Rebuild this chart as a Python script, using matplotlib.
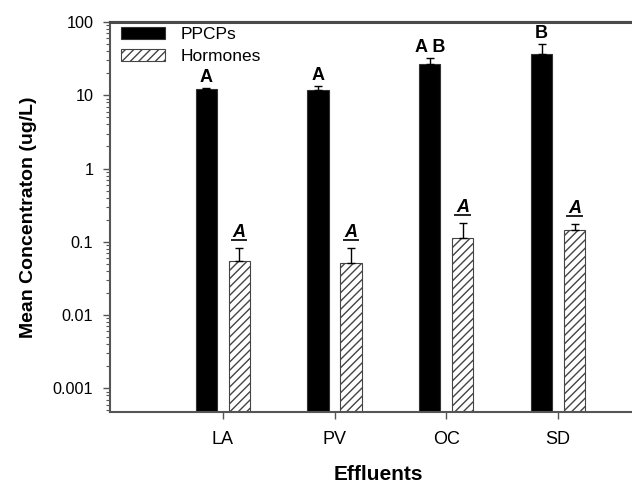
import matplotlib
matplotlib.use("Agg")
import matplotlib.pyplot as plt
import numpy as np
from matplotlib.transforms import offset_copy
from matplotlib.lines import Line2D
from matplotlib.ticker import LogLocator, FixedLocator, NullFormatter

plt.rcParams['font.family'] = ['Liberation Sans', 'DejaVu Sans']
plt.rcParams['hatch.color'] = '#666666'
plt.rcParams['hatch.linewidth'] = 1.0

categories = ['LA', 'PV', 'OC', 'SD']
ppcps = [12.0, 11.8, 26.5, 36.5]
ppcps_err = [0.6, 1.6, 5.5, 13.5]
hormones = [0.055, 0.052, 0.114, 0.146]
hormones_err = [0.028, 0.031, 0.068, 0.030]
ppcps_labels = ['A', 'A', 'A B', 'B']
hormones_labels = ['A', 'A', 'A', 'A']
ytick_vals = [0.001, 0.01, 0.1, 1, 10, 100]
ytick_labels = ['0.001', '0.01', '0.1', '1', '10', '100']

fig = plt.figure(figsize=(6.32, 4.83), dpi=100)
ax = fig.add_axes([110/632, 1-411.7/483, 536/632, (411.7-22)/483])

x = np.arange(len(categories))
w = 0.19
off = 0.147
spine_c = '#555555'

ax.bar(x - off, ppcps, width=w, color='black', edgecolor='#333333', linewidth=0.8,
       yerr=[np.zeros(len(x)), ppcps_err], capsize=3,
       error_kw=dict(ecolor='black', elinewidth=1.0, capthick=1.0),
       label='PPCPs', zorder=2)
ax.bar(x + off, hormones, width=w, color='white', edgecolor='#444444', linewidth=0.8,
       hatch='////', yerr=[np.zeros(len(x)), hormones_err], capsize=3,
       error_kw=dict(ecolor='black', elinewidth=1.0, capthick=1.0),
       label='Hormones', zorder=2)

ax.set_yscale('log')
ax.set_ylim(10**(-3.32), 100)
ax.set_xlim(-1.008, 3.786)

ax.yaxis.set_major_locator(FixedLocator(ytick_vals))
ax.set_yticklabels(ytick_labels)
ax.yaxis.set_minor_locator(LogLocator(base=10, subs=np.arange(2, 10), numticks=20))
ax.yaxis.set_minor_formatter(NullFormatter())
ax.set_xticks(x)
ax.set_xticklabels(categories)

ax.tick_params(axis='y', which='major', direction='out', length=5, width=1, color=spine_c,
               labelsize=11.7, pad=7)
ax.tick_params(axis='y', which='minor', direction='out', length=3, width=0.8, color=spine_c)
ax.tick_params(axis='x', which='major', direction='out', length=5, width=1, color=spine_c,
               labelsize=13, pad=9)
ax.tick_params(axis='x', which='minor', bottom=False)

for s in ['left', 'bottom', 'top']:
    ax.spines[s].set_color(spine_c)
    ax.spines[s].set_linewidth(1.5)
ax.spines['right'].set_visible(False)

# figure-level top frame line (axes extends past the right edge)
fig.add_artist(Line2D([110/632, 1.0], [1-22/483, 1-22/483], transform=fig.transFigure,
                      color='#4a4a4a', lw=2.2, zorder=10))

# PPCP labels
for xi, v, e, lab in zip(x, ppcps, ppcps_err, ppcps_labels):
    tr = offset_copy(ax.transData, fig=fig, x=0, y=1.5, units='points')
    ax.text(xi - off, v + e, lab, transform=tr, ha='center', va='bottom',
            fontsize=13, fontweight='bold')

# Hormone labels with underline
for xi, v, e, lab in zip(x, hormones, hormones_err, hormones_labels):
    tr = offset_copy(ax.transData, fig=fig, x=0, y=4.6, units='points')
    ax.text(xi + off, v + e, lab, transform=tr, ha='center', va='bottom',
            fontsize=13, fontweight='bold', fontstyle='italic')
    trl = offset_copy(ax.transData, fig=fig, x=0, y=5.8, units='points')
    ax.add_line(Line2D([xi + off - 0.065, xi + off + 0.065], [v + e, v + e],
                       transform=trl, color='#222222', lw=1.4))

leg = ax.legend(loc='upper left', bbox_to_anchor=(121/632, 1-27/483),
                bbox_transform=fig.transFigure, frameon=False, fontsize=12.5,
                handlelength=2.55, handleheight=0.7, handletextpad=0.9,
                labelspacing=0.4, borderpad=0, borderaxespad=0)

ax.set_ylabel('Mean Concentraton (ug/L)', fontsize=14, fontweight='bold', va='center')
ax.yaxis.set_label_coords((28-110)/536, 0.5)
ax.set_xlabel('Effluents', fontsize=15, fontweight='bold', va='center')
ax.xaxis.set_label_coords(0.5, (411.7-474.5)/389.7)

fig.savefig('out.png', dpi=100)
